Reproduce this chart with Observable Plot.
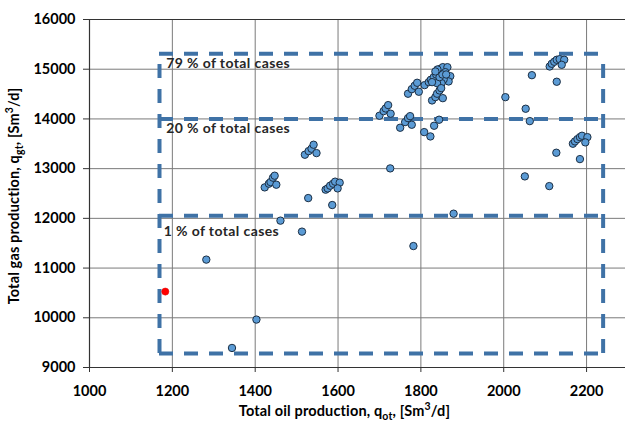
<!DOCTYPE html>
<html>
<head>
<meta charset="utf-8">
<script src="https://cdn.jsdelivr.net/npm/d3@7"></script>
<script src="https://cdn.jsdelivr.net/npm/@observablehq/plot@0.6"></script>
<style>
  html, body { margin: 0; padding: 0; background: #fff; }
  #chart { width: 625px; height: 421px; }
</style>
</head>
<body>
<div id="chart"></div>
<script>
// ---- Data ----
const xTicks = [1000, 1200, 1400, 1600, 1800, 2000, 2200];
const yTicks = [9000, 10000, 11000, 12000, 13000, 14000, 15000, 16000];

const oil = [
  1282, 1344, 1403, 1461, 1513, 1782, 1879,
  1423, 1433, 1437, 1443, 1447, 1451,
  1520, 1529, 1536, 1541, 1548,
  1528, 1586,
  1570, 1575, 1581, 1588, 1593, 1604, 1599,
  1726,
  1700, 1710, 1715, 1721, 1727,
  1750, 1762, 1769, 1774, 1778,
  1769, 1778, 1785, 1791, 1795,
  1808, 1823, 1832, 1844,
  1809, 1819, 1824, 1831, 1837, 1843, 1847, 1853, 1864, 1859, 1871, 1867, 1855, 1850, 1839, 1827, 1845, 1852, 1861, 1840, 1835,
  1827, 1835, 1839, 1845, 1849, 1853,
  2004, 2053, 2063, 2068, 2128, 2051, 2110, 2127, 2184,
  2111, 2116, 2122, 2128, 2135, 2146, 2140,
  2167, 2172, 2178, 2184, 2189, 2202, 2197
];
const gas = [
  11170, 9393, 9964, 11954, 11733, 11443, 12094,
  12623, 12697, 12730, 12818, 12858, 12677,
  13280, 13353, 13401, 13481, 13313,
  12408, 12268,
  12577, 12603, 12657, 12697, 12738, 12718, 12603,
  13005,
  14064, 14157, 14211, 14278, 14105,
  13823, 13936, 14016, 14056, 13883,
  14507, 14599, 14667, 14727, 14547,
  13735, 13648, 13863, 13984,
  14680, 14740, 14788, 14840, 14894, 14955, 15009, 15041, 15041, 14941, 14860, 14754, 14794, 14720, 14720, 14740, 14840, 14894, 14894, 14995, 14955,
  14372, 14439, 14507, 14573, 14619, 14418,
  14438, 14205, 13956, 14880, 14748, 12844, 12649, 13320, 13192,
  15055, 15109, 15150, 15190, 15202, 15190, 15089,
  13501, 13548, 13594, 13634, 13662, 13634, 13528
];
const optOil = [1183];
const optGas = [10527];

// dashed region boundaries (data units)
const boxLeft = 1169, boxRight = 2240;
const boxLevels = [15310, 14000, 12050, 9280];
const boxLabels = ["79 % of total cases", "20 % of total cases", "1 % of total cases"];
const labelX = [1185, 1185, 1179];
const labelY = [15116, 13809, 11745];

// ---- Build tables ----
const points = oil.map((x, i) => ({x, y: gas[i]}));
const optPoint = optOil.map((x, i) => ({x, y: optGas[i]}));
const labels = boxLabels.map((t, i) => ({t, x: labelX[i], y: labelY[i]}));

const blue = "#3F72A6";

const svg = Plot.plot({
  width: 625,
  height: 421,
  marginLeft: 89,
  marginTop: 19,
  marginBottom: 54,
  marginRight: 0,
  style: {fontFamily: "Lato", fontSize: "14.5px", color: "#000", background: "#fff"},
  x: {domain: [1000, 2294], label: null},
  y: {domain: [9000, 16000], label: null},
  marks: [
    Plot.ruleX(xTicks.slice(1), {stroke: "#7a7a7a", strokeWidth: 1}),
    Plot.ruleY(yTicks.slice(1, -1), {stroke: "#7a7a7a", strokeWidth: 1}),
    Plot.ruleY([16000], {stroke: "#333", strokeWidth: 1.2}),
    Plot.ruleX([1000], {stroke: "#333", strokeWidth: 1.2}),
    Plot.ruleY([9000], {stroke: "#333", strokeWidth: 1.2}),
    Plot.axisX({ticks: xTicks, tickFormat: d => String(d), tickSize: 5, tickPadding: 13, fontWeight: "bold", fontSize: 14.5, stroke: "#333"}),
    Plot.axisY({ticks: yTicks, tickFormat: d => String(d), tickSize: 6, tickPadding: 8, fontWeight: "bold", fontSize: 14.5, stroke: "#333"}),
    // dashed region boxes
    Plot.ruleY(boxLevels, {x1: boxLeft, x2: boxRight, stroke: blue, strokeWidth: 4, strokeDasharray: "14,11"}),
    Plot.ruleX([boxLeft, boxRight], {y1: boxLevels[3], y2: boxLevels[0], stroke: blue, strokeWidth: 4, strokeDasharray: "14,11"}),
    Plot.text(labels, {x: "x", y: "y", text: "t", textAnchor: "start", fontWeight: "bold", fontSize: 14, fill: "#262626"}),
    Plot.dot(points, {x: "x", y: "y", r: 3.7, fill: "#5B9BD5", stroke: "#1c2f44", strokeWidth: 1}),
    Plot.dot(optPoint, {x: "x", y: "y", r: 3.6, fill: "#FF0000", stroke: "#e00000", strokeWidth: 0.5})
  ]
});

// letter spacing for annotation labels to match the wider reference face
d3.select(svg).selectAll("text").filter(function() {
  return /total cases/.test(this.textContent);
}).attr("letter-spacing", "0.4px");

// Axis titles with sub/superscripts
const s = d3.select(svg);
function title(sel, main, sub) {
  const t = sel.append("text")
    .attr("text-anchor", "middle")
    .attr("font-family", "Lato")
    .attr("font-weight", "bold")
    .attr("font-size", 14.5)
    .attr("letter-spacing", "0.15px")
    .attr("fill", "#000");
  t.append("tspan").text(main);
  t.append("tspan").attr("font-size", 10.5).attr("dy", 4).text(sub);
  t.append("tspan").attr("dy", -4).text(", [Sm");
  t.append("tspan").attr("font-size", 10.5).attr("dy", -6).text("3");
  t.append("tspan").attr("dy", 6).text("/d]");
  return t;
}
title(s, "Total oil production, q", "ot").attr("x", 344.5).attr("y", 416);
title(s, "Total gas production, q", "gt").attr("transform", "translate(19,196) rotate(-90)");

document.getElementById("chart").appendChild(svg);
</script>
</body>
</html>
